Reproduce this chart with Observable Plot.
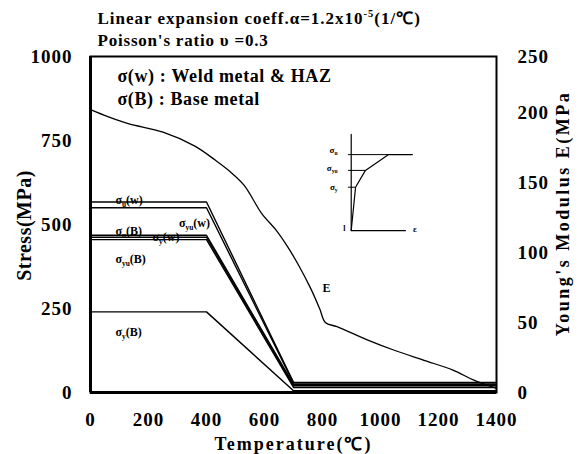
<!DOCTYPE html>
<html><head><meta charset="utf-8">
<script src="https://cdn.jsdelivr.net/npm/d3@7"></script>
<script src="https://cdn.jsdelivr.net/npm/@observablehq/plot@0.6"></script>
<style>body{margin:0;background:#fff}</style>
</head><body><div id="chart"></div>
<script>
// ---- data ----
const temps = [0, 400, 700, 1400];
const sigUw  = [567, 567, 30, 30];
const sigYUw = [550, 550, 28, 28];
const sigUB  = [468, 468, 24, 24];
const sigYw  = [462, 462, 20, 20];
const sigYUB = [455, 455, 15, 15];
const sigYB  = [240, 240, 5, 5];
const series = [sigUw, sigYUw, sigUB, sigYw, sigYUB, sigYB];

const eTemp = [0, 60, 130, 250, 360, 430, 480, 530, 590, 640, 680, 720, 760, 790, 810, 850, 950, 1050, 1150, 1250, 1320, 1400];
const eVal  = [202, 197, 192, 186, 176, 166, 158, 148, 128, 116, 104, 90, 74, 60, 50, 47, 38, 30, 23, 16, 9, 3];

const xTicks = [0, 200, 400, 600, 800, 1000, 1200, 1400];
const yTicks = [0, 250, 500, 750, 1000];
const eTicks = [0, 50, 100, 150, 200, 250];

const seriesLabels = ["σ{_u}(w)", "σ{_yu}(w)", "σ{_u}(B)", "σ{_y}(w)", "σ{_yu}(B)", "σ{_y}(B)"];
const labelT = [86, 305, 86, 214, 86, 86];
const labelS = [571, 503, 479, 461, 396, 179];

const titleLines = ["Linear expansion coeff.α=1.2x10{^-5}(1/℃)", "Poisson's ratio υ =0.3"];
const titleT = [24, 24];
const titleS = [1113, 1048];
const legendLines = ["σ(w) : Weld metal & HAZ", "σ(B) : Base metal"];
const legendT = [93, 93];
const legendS = [940, 872];

// inset stress–strain sketch
const insetCurveT = [899, 914, 948, 1028, 1110];
const insetCurveS = [482, 611, 661, 708, 708];
const insetAxisT = [899, 899, 1086];
const insetAxisS = [768, 482, 482];
const insetLevels = [708, 661, 611];
const insetLevelEnd = [1028, 948, 914];
const insetLabels = ["σ{_u}", "σ{_yu}", "σ{_y}"];
const insetLabelS = [722, 667, 610];

// right axis (E) mapped onto the stress scale as in the original figure
const E_TO_S = 1000 / 240;
const eToStress = e => Math.min(1000, e * E_TO_S);
const eTickPos = eTicks.map(eToStress);

const font = "'Liberation Serif','Times New Roman',serif";

const marks = [
  Plot.frame({stroke: "black", strokeWidth: 2}),
  Plot.ruleX([0], {stroke: "black", strokeWidth: 3}),
  Plot.ruleY([0], {stroke: "black", strokeWidth: 3}),
  Plot.axisX({ticks: xTicks, tickFormat: d => String(d), tickSize: 0, tickPadding: 20, fontSize: 19, label: null}),
  Plot.axisY({anchor: "left", ticks: yTicks, tickFormat: d => String(d), tickSize: 0, tickPadding: 18, fontSize: 19, label: null}),
  Plot.axisY({anchor: "right", ticks: eTickPos, tickFormat: d => String(eTicks[eTickPos.indexOf(d)]), tickSize: 0, tickPadding: 21, fontSize: 19, label: null}),
  ...series.map(s => Plot.line(s, {x: temps, y: s, stroke: "black", strokeWidth: 1.4})),
  Plot.line(eVal, {x: eTemp, y: eVal.map(eToStress), stroke: "black", strokeWidth: 1.3, curve: "catmull-rom"}),
  Plot.text(seriesLabels, {x: labelT, y: labelS, text: d => d, textAnchor: "start", fontSize: 12}),
  Plot.text(["E"], {x: [800], y: [312], text: d => d, textAnchor: "start", fontSize: 12}),
  Plot.text(titleLines, {x: titleT, y: titleS, text: d => d, textAnchor: "start", fontSize: 17}),
  Plot.text(legendLines, {x: legendT, y: legendS, text: d => d, textAnchor: "start", fontSize: 18}),
  // inset
  Plot.line(insetAxisS, {x: insetAxisT, y: insetAxisS, stroke: "black", strokeWidth: 1.2}),
  Plot.line(insetCurveS, {x: insetCurveT, y: insetCurveS, stroke: "black", strokeWidth: 1.2}),
  Plot.ruleY(insetLevels, {x1: 890, x2: insetLevelEnd, stroke: "black", strokeWidth: 1}),
  Plot.text(insetLabels, {x: 852, y: insetLabelS, text: d => d, textAnchor: "end", fontSize: 9}),
  Plot.text(["l"], {x: [879], y: [488], text: d => d, textAnchor: "end", fontSize: 8}),
  Plot.text(["ε"], {x: [1112], y: [485], text: d => d, textAnchor: "start", fontSize: 9}),
  // axis titles
  Plot.text(["Stress(MPa)"], {frameAnchor: "left", dx: -66, dy: 1, rotate: -90, textAnchor: "middle", fontSize: 20}),
  Plot.text(["Young's Modulus E(MPa"], {frameAnchor: "right", dx: 67, dy: -11, rotate: -90, textAnchor: "middle", fontSize: 18}),
  Plot.text(["Temperature(℃)"], {frameAnchor: "bottom", dy: 52, textAnchor: "middle", lineAnchor: "middle", fontSize: 18})
];

const chart = Plot.plot({
  width: 584, height: 454,
  marginLeft: 90, marginRight: 88, marginTop: 56, marginBottom: 62,
  x: {domain: [0, 1400]},
  y: {domain: [0, 1000]},
  style: {fontFamily: font, fontWeight: "bold", fontSize: "18px", color: "black", background: "white", overflow: "visible"},
  marks
});
document.getElementById("chart").appendChild(chart);

// letter spacing to mimic the original's wide typesetting
const spacing = {
  "Young's Modulus E(MPa": "2.5px",
  "Temperature(℃)": "2px",
  "Stress(MPa)": "0.5px",
  "σ(w) : Weld metal & HAZ": "0.6px",
  "σ(B) : Base metal": "0.6px",
  "Poisson's ratio υ =0.3": "0.8px",
  "Linear expansion coeff.α=1.2x10{^-5}(1/℃)": "1px"
};
d3.select(chart).selectAll("text").each(function() {
  const ls = spacing[this.textContent];
  if (ls) this.setAttribute("letter-spacing", ls);
});
d3.select(chart).selectAll('g[aria-label$="tick label"] text').attr("letter-spacing", "1px");

// sub/superscripts as tspans
d3.select(chart).selectAll("text").each(function() {
  const s = this.textContent;
  if (!/\{[_^]/.test(s)) return;
  const base = parseFloat(getComputedStyle(this).fontSize) || 12;
  const parts = s.split(/(\{[_^][^}]*\})/).filter(p => p);
  this.textContent = "";
  let shift = 0;
  for (const p of parts) {
    const m = p.match(/^\{([_^])([^}]*)\}$/);
    const t = document.createElementNS("http://www.w3.org/2000/svg", "tspan");
    let target = 0;
    if (m) {
      t.textContent = m[2];
      t.setAttribute("font-size", (base * 0.62).toFixed(1) + "px");
      target = m[1] === "_" ? base * 0.22 : -base * 0.42;
    } else t.textContent = p;
    if (target !== shift) t.setAttribute("dy", (target - shift).toFixed(2));
    shift = target;
    this.appendChild(t);
  }
});
</script>
</body></html>
